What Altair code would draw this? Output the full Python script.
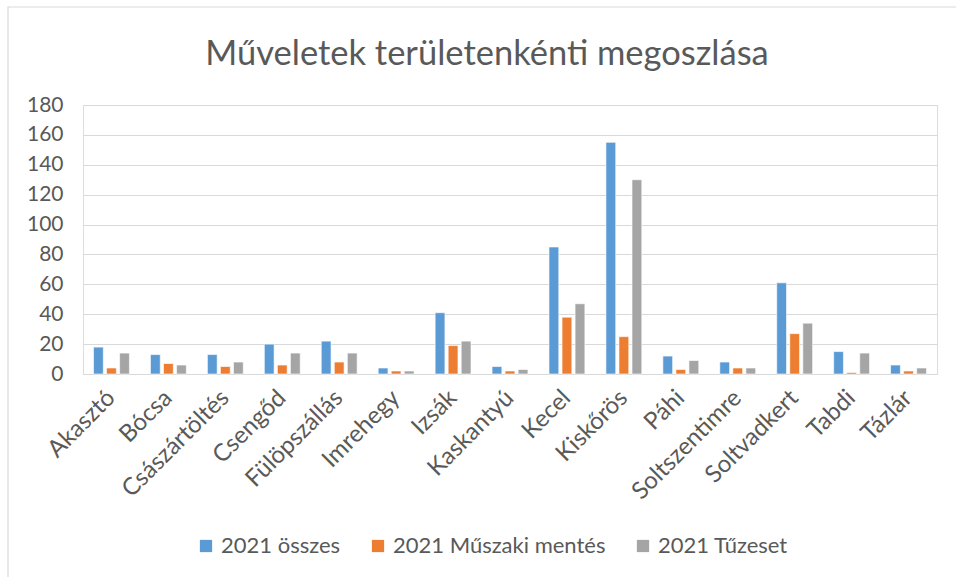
import altair as alt
import pandas as pd

categories = ["Akasztó", "Bócsa", "Császártöltés", "Csengőd", "Fülöpszállás",
              "Imrehegy", "Izsák", "Kaskantyú", "Kecel", "Kiskőrös", "Páhi",
              "Soltszentimre", "Soltvadkert", "Tabdi", "Tázlár"]
series_names = ["2021 összes", "2021 Műszaki mentés", "2021 Tűzeset"]
osszes = [18, 13, 13, 20, 22, 4, 41, 5, 85, 155, 12, 8, 61, 15, 6]
muszaki = [4, 7, 5, 6, 8, 2, 19, 2, 38, 25, 3, 4, 27, 1, 2]
tuzeset = [14, 6, 8, 14, 14, 2, 22, 3, 47, 130, 9, 4, 34, 14, 4]
colors = ["#5B9BD5", "#ED7D31", "#A5A5A5"]
y_ticks = [0, 20, 40, 60, 80, 100, 120, 140, 160, 180]

rows = []
for vals, name in zip([osszes, muszaki, tuzeset], series_names):
    for c, v in zip(categories, vals):
        rows.append({"Terület": c, "Sorozat": name, "Érték": v})
df = pd.DataFrame(rows)

FONT = "Lato"
TXT = "#595959"

bars = alt.Chart(df).mark_bar(stroke="white", strokeWidth=0.6).encode(
    x=alt.X("Terület:N", sort=categories, title=None,
            scale=alt.Scale(paddingInner=0.37, paddingOuter=0.185),
            axis=alt.Axis(labelAngle=-45, labelAlign="right", labelBaseline="middle",
                          labelFontSize=24, labelColor=TXT, labelFont=FONT,
                          labelPadding=20, ticks=False, domainColor="#d9d9d9",
                          domainWidth=1.2, grid=False)),
    xOffset=alt.XOffset("Sorozat:N", sort=series_names,
                        scale=alt.Scale(paddingInner=0.25, paddingOuter=0)),
    y=alt.Y("Érték:Q", title=None,
            scale=alt.Scale(domain=[0, 180], nice=False),
            axis=alt.Axis(values=y_ticks, labelFontSize=21, labelColor=TXT,
                          labelFont=FONT, ticks=False, domain=False,
                          gridColor="#d9d9d9", gridWidth=1.2, labelPadding=20)),
    color=alt.Color("Sorozat:N", sort=series_names,
                    scale=alt.Scale(domain=series_names, range=colors),
                    legend=alt.Legend(title=None, orient="none", direction="horizontal",
                                      legendX=112, legendY=430,
                                      symbolType="square", symbolSize=150,
                                      symbolStrokeWidth=0, labelFontSize=22,
                                      labelColor=TXT, labelFont=FONT,
                                      columnPadding=26, labelLimit=400)),
)

border = alt.Chart(alt.Data(values=[{}])).mark_rect(
    fill=None, stroke="#d9d9d9", strokeWidth=1.2
).encode(
    x=alt.value(-75), x2=alt.value(1000), y=alt.value(-98), y2=alt.value(600)
)

chart = alt.layer(border, bars).properties(
    width=854, height=269,
    title=alt.TitleParams("Műveletek területenkénti megoszlása", fontSize=34.5,
                          font=FONT, color=TXT, fontWeight="normal",
                          anchor="middle", offset=-66, dx=-23),
    autosize=alt.AutoSizeParams(type="none"),
    padding={"left": 83, "top": 105, "right": 19, "bottom": 203},
).configure_view(stroke=None).configure(background="white")

chart.save("out.html", embed_options={"renderer": "svg", "actions": False})
